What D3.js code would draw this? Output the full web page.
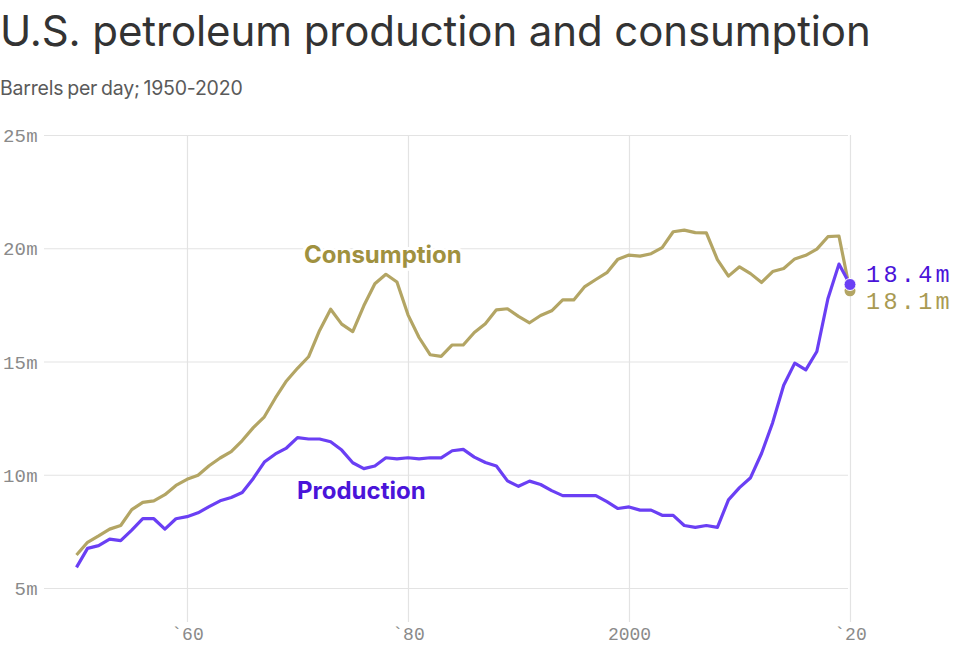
<!DOCTYPE html>
<html>
<head>
<meta charset="utf-8">
<script src="https://cdn.jsdelivr.net/npm/d3@7"></script>
<style>
  html, body { margin: 0; padding: 0; background: #fff; }
  svg { display: block; }
</style>
</head>
<body>
<svg id="chart" width="960" height="656"></svg>
<script>
const years = d3.range(1950, 2021);
const consumption = [
  6.46, 7.02, 7.30, 7.60, 7.76, 8.46, 8.78, 8.85, 9.12, 9.53,
  9.80, 9.98, 10.40, 10.74, 11.02, 11.51, 12.08, 12.56, 13.39, 14.14,
  14.70, 15.21, 16.37, 17.31, 16.65, 16.32, 17.46, 18.43, 18.85, 18.51,
  17.06, 16.06, 15.30, 15.23, 15.73, 15.73, 16.28, 16.67, 17.28, 17.33,
  16.99, 16.71, 17.03, 17.24, 17.72, 17.72, 18.31, 18.62, 18.92, 19.52,
  19.70, 19.65, 19.76, 20.03, 20.73, 20.80, 20.69, 20.68, 19.50, 18.77,
  19.18, 18.88, 18.49, 18.97, 19.11, 19.53, 19.69, 19.96, 20.51, 20.54,
  18.12
];
const production = [
  5.91, 6.75, 6.87, 7.16, 7.09, 7.56, 8.06, 8.06, 7.60, 8.06,
  8.15, 8.32, 8.59, 8.85, 9.00, 9.22, 9.84, 10.56, 10.92, 11.18,
  11.64, 11.58, 11.58, 11.46, 11.09, 10.53, 10.27, 10.39, 10.75, 10.70,
  10.75, 10.70, 10.75, 10.75, 11.06, 11.12, 10.78, 10.54, 10.39, 9.73,
  9.49, 9.72, 9.57, 9.30, 9.08, 9.08, 9.08, 9.08, 8.81, 8.51,
  8.58, 8.44, 8.44, 8.21, 8.21, 7.76, 7.68, 7.76, 7.68, 8.89,
  9.43, 9.87, 10.95, 12.30, 13.95, 14.93, 14.63, 15.44, 17.77, 19.30,
  18.40
];
const yTicks = [5, 10, 15, 20, 25];
const yTickLabels = ["5m", "10m", "15m", "20m", "25m"];
const xTicks = [1960, 1980, 2000, 2020];
const xTickLabels = ["`60", "`80", "2000", "`20"];
const endLabels = ["18.4m", "18.1m"];

const svg = d3.select("#chart");
const mono = "'Liberation Mono', 'DejaVu Sans Mono', monospace";
const sans = "Inter, 'Noto Sans', Lato, sans-serif";

const x = d3.scaleLinear().domain([1950, 2020]).range([76.5, 850]);
const y = d3.scaleLinear().domain([3.5, 25]).range([622, 135]);

// Title & subtitle
svg.append("text").attr("x", 0).attr("y", 46)
  .attr("font-family", sans).attr("font-size", 42).attr("font-weight", 400)
  .attr("letter-spacing", -0.1)
  .attr("fill", "#333").text("U.S. petroleum production and consumption");
svg.append("text").attr("x", 0).attr("y", 95)
  .attr("font-family", sans).attr("font-size", 19.5)
  .attr("letter-spacing", -0.2).attr("word-spacing", -1.5)
  .attr("fill", "#5a5a5a").text("Barrels per day; 1950-2020");

// Horizontal grid lines + y labels
const yAxis = d3.axisLeft(y).tickValues(yTicks)
  .tickSize(-(848 - 44)).tickFormat((d, i) => yTickLabels[i]);
const gy = svg.append("g").attr("transform", "translate(44,0)").call(yAxis);
gy.select(".domain").remove();
gy.selectAll("line").attr("stroke", "#e3e3e3").attr("stroke-width", 1.2);
gy.selectAll("text").attr("x", -6).attr("dy", "0.35em")
  .attr("font-family", mono).attr("font-size", 19).attr("letter-spacing", 0.3)
  .attr("fill", "#8a8a8a");

// Vertical grid lines + x labels
const xAxis = d3.axisBottom(x).tickValues(xTicks)
  .tickSize(-(622 - 135)).tickFormat((d, i) => xTickLabels[i]);
const gx = svg.append("g").attr("transform", "translate(0,622)").call(xAxis);
gx.select(".domain").remove();
gx.selectAll("line").attr("stroke", "#e3e3e3").attr("stroke-width", 1.2);
gx.selectAll("text").attr("y", 5).attr("dy", "0.71em")
  .attr("font-family", mono).attr("font-size", 18).attr("fill", "#8a8a8a");

// Lines
const line = d3.line().x((d, i) => x(years[i])).y(d => y(d));
svg.append("path").datum(consumption).attr("d", line)
  .attr("fill", "none").attr("stroke", "#b3a564").attr("stroke-width", 3.2)
  .attr("stroke-linejoin", "round");
svg.append("path").datum(production).attr("d", line)
  .attr("fill", "none").attr("stroke", "#6a3ff4").attr("stroke-width", 3.2)
  .attr("stroke-linejoin", "round");

// Series labels
svg.append("text").attr("x", 304).attr("y", 263)
  .attr("font-family", sans).attr("font-size", 24).attr("font-weight", 700)
  .attr("stroke", "#fff").attr("stroke-width", 6).attr("paint-order", "stroke")
  .attr("fill", "#a0913f").text("Consumption");
svg.append("text").attr("x", 297).attr("y", 499)
  .attr("font-family", sans).attr("font-size", 24).attr("font-weight", 700)
  .attr("fill", "#4a14d9").text("Production");

// End dots
const last = years.length - 1;
svg.append("circle").attr("cx", x(years[last])).attr("cy", y(consumption[last]))
  .attr("r", 5.5).attr("fill", "#b3a564");
svg.append("circle").attr("cx", x(years[last])).attr("cy", y(production[last]))
  .attr("r", 6).attr("fill", "#6a3ff4").attr("stroke", "#fff").attr("stroke-width", 1);

// End labels
svg.append("text").attr("x", 866).attr("y", y(production[last]) - 2)
  .attr("font-family", mono).attr("font-size", 23.5).attr("letter-spacing", 3.3)
  .attr("fill", "#4a14d9")
  .text(endLabels[0]);
svg.append("text").attr("x", 866).attr("y", y(production[last]) + 25)
  .attr("font-family", mono).attr("font-size", 23.5).attr("letter-spacing", 3.3)
  .attr("fill", "#a99a52")
  .text(endLabels[1]);
</script>
</body>
</html>
